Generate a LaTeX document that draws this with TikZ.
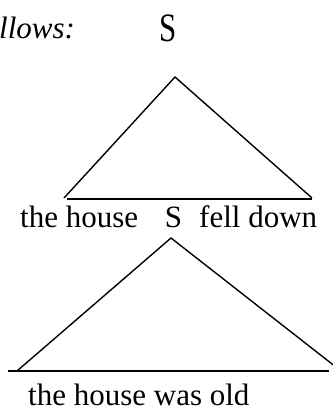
\documentclass[tikz,border=0pt]{standalone}
\usepackage{fontspec}
\setmainfont{Liberation Serif}
\begin{document}
\begin{tikzpicture}[x=1bp,y=-1bp,
  txt/.style={inner sep=0pt,font=\fontsize{31bp}{36bp}\selectfont},
  leg/.style={line width=1.4bp}]
\useasboundingbox (0,0) rectangle (333,409);
\clip (0,0) rectangle (333,409);
% top line
\node[txt,anchor=base west] (follows) at (-1,38) {\itshape llows:};
\node[txt,anchor=base] (topS) at (168.5,41) {\scalebox{1}[1.3]{S}};
% first triangle
\coordinate (apex1) at (175,77);
\coordinate (left1) at (64,198);
\coordinate (right1) at (312,198);
\coordinate (bl1) at (67,199);
\coordinate (br1) at (312,199);
\draw[leg] (left1) -- (apex1) -- (right1);
\draw[leg] (bl1) -- (br1);
% middle line
\node[txt,anchor=base west] (house1) at (20,227) {the house};
\node[txt,anchor=base] (midS) at (173.5,227) {S};
\node[txt,anchor=base west] (fell) at (199,227) {fell down};
% second triangle
\coordinate (apex2) at (171,238);
\coordinate (left2) at (17,371);
\coordinate (right2) at (341,371);
\coordinate (bl2) at (8,371);
\coordinate (br2) at (329,371);
\draw[leg] (left2) -- (apex2) -- (right2);
\draw[leg] (bl2) -- (br2);
% bottom line
\node[txt,anchor=base west] (house2) at (28,405.5) {the house was old};
\end{tikzpicture}
\end{document}
